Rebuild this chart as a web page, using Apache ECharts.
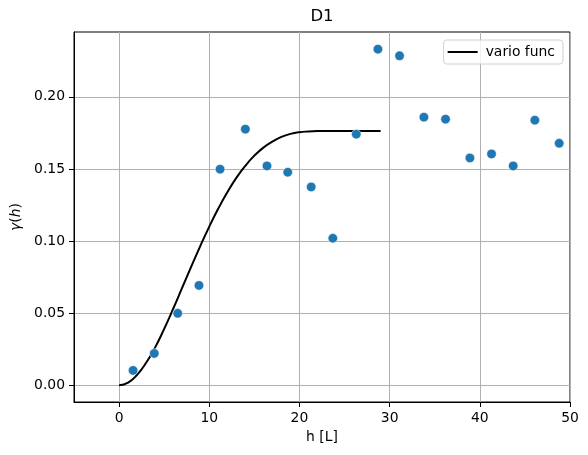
<!DOCTYPE html>
<html>
<head>
<meta charset="utf-8">
<script src="https://cdn.jsdelivr.net/npm/echarts@6/dist/echarts.min.js"></script>
<style>
html,body{margin:0;padding:0;background:#fff;}
#chart{width:588px;height:455px;}
</style>
</head>
<body>
<div id="chart"></div>
<script>
// empirical variogram points
var binX = [1.55, 3.9, 6.5, 8.86, 11.2, 14.0, 16.4, 18.7, 21.3, 23.7, 26.3, 28.7, 31.1, 33.8, 36.2, 38.9, 41.3, 43.7, 46.1, 48.8];
var binY = [0.0102, 0.0220, 0.0498, 0.0692, 0.1498, 0.1776, 0.1521, 0.1477, 0.1375, 0.1019, 0.1741, 0.2331, 0.2285, 0.1859, 0.1845, 0.1576, 0.1604, 0.1521, 0.1838, 0.1678];

// fitted model curve, read at h = 0..29
var modelX = [0,1,2,3,4,5,6,7,8,9,10,11,12,13,14,15,16,17,18,19,20,21,22,23,24,25,26,27,28,29];
var modelY = [0, 0.0018, 0.0072, 0.0155, 0.0262, 0.0390, 0.0530, 0.0676, 0.0822, 0.0965, 0.1100, 0.1225, 0.1338, 0.1438, 0.1522, 0.1592, 0.1648, 0.1690, 0.1722, 0.1743, 0.1755, 0.1760, 0.1763, 0.1764, 0.1764, 0.1764, 0.1764, 0.1764, 0.1764, 0.1764];

var xTicks = [0, 10, 20, 30, 40, 50];
var yTicks = [0, 0.05, 0.10, 0.15, 0.20];

var chart = echarts.init(document.getElementById('chart'), null, {renderer:'canvas'});

var font = 'DejaVu Sans';
var scatterData = [], lineData = [];
binX.forEach(function (x, i) { scatterData.push([x, binY[i]]); });
modelX.forEach(function (x, i) { lineData.push([x, modelY[i]]); });

var option = {
	backgroundColor:'#fff',
	animation:false,
	title:{
		text:'D1',
		left:322,
		top:8,
		textAlign:'center',
		padding:0,
		textStyle:{fontFamily:font, fontSize:16.5, fontWeight:'normal', color:'#000'}
	},
	legend:{
		data:['vario func'],
		right:25,
		top:40,
		orient:'vertical',
		icon:'rect',
		itemWidth:30,
		itemHeight:2,
		itemGap:8,
		padding:[5,8,5,4],
		borderColor:'#d0d0d0',
		borderWidth:1,
		borderRadius:3,
		backgroundColor:'rgba(255,255,255,0.8)',
		textStyle:{fontFamily:font, fontSize:13.9, color:'#000', padding:[0,0,0,3]}
	},
	grid:{
		left:74, right:18, top:32, bottom:53,
		show:true, borderColor:'#000', borderWidth:1
	},
	xAxis:{
		type:'value',
		min:-5, max:50,
		name:'h [L]',
		nameLocation:'middle',
		nameGap:28,
		nameTextStyle:{fontFamily:font, fontSize:13.9, color:'#000'},
		axisLine:{show:true, onZero:false, lineStyle:{color:'#000', width:1}},
		axisTick:{show:true, inside:false, length:5, lineStyle:{color:'#000'}, customValues:xTicks},
		axisLabel:{fontFamily:font, fontSize:13.9, color:'#000', margin:9, customValues:xTicks},
		splitLine:{show:true, lineStyle:{color:'#b0b0b0', width:1}}
	},
	yAxis:{
		type:'value',
		min:-0.0117, max:0.245,
		name:'{i|γ}({i|h})',
		nameLocation:'middle',
		nameGap:46,
		nameRotate:90,
		nameTextStyle:{fontFamily:font, fontSize:13.9, color:'#000', rich:{i:{fontFamily:font, fontSize:13.9, fontStyle:'italic', color:'#000'}}},
		axisLine:{show:true, onZero:false, lineStyle:{color:'#000', width:1}},
		axisTick:{show:true, inside:false, length:5, lineStyle:{color:'#000'}, customValues:yTicks},
		axisLabel:{fontFamily:font, fontSize:13.9, color:'#000', margin:9, customValues:yTicks,
			formatter:function (v) { return v.toFixed(2); }},
		splitLine:{show:true, lineStyle:{color:'#b0b0b0', width:1}}
	},
	series:[
		{
			name:'vario func',
			type:'line',
			data:lineData,
			smooth:true,
			showSymbol:false,
			symbol:'none',
			lineStyle:{color:'#000', width:2},
			itemStyle:{color:'#000'},
			z:2
		},
		{
			name:'bins',
			type:'scatter',
			data:scatterData,
			symbolSize:9.5,
			itemStyle:{color:'#1f77b4', borderColor:'#ffffff', borderWidth:0.5, opacity:1},
			z:3
		}
	]
};
chart.setOption(option);
</script>
</body>
</html>
